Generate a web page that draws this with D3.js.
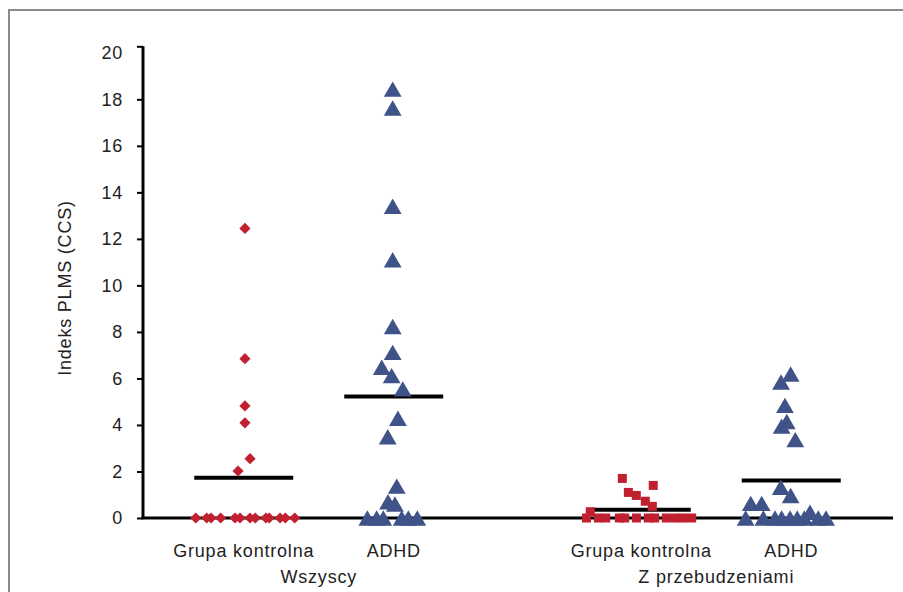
<!DOCTYPE html>
<html>
<head>
<meta charset="utf-8">
<script src="https://cdn.jsdelivr.net/npm/d3@7"></script>
<style>
  body { margin: 0; background: #fff; }
  text { font-family: "Liberation Sans", Arial, sans-serif; font-size: 18px; fill: #222; letter-spacing: 0.8px; }
</style>
</head>
<body>
<script>
// groups and categories
const groups = ["Wszyscy", "Z przebudzeniami"];
const categories = ["Grupa kontrolna", "ADHD"];
const yTicks = [0, 2, 4, 6, 8, 10, 12, 14, 16, 18, 20];

// PLMS index values, with horizontal scatter (fraction of category step)
const ctrlAll = [12.45, 6.85, 4.82, 4.09, 2.55, 2.02, 0, 0, 0, 0, 0, 0, 0, 0, 0, 0, 0, 0, 0];
const ctrlAllJit = [0.008, 0.008, 0.008, 0.008, 0.042, -0.038, -0.32, -0.247, -0.218, -0.154, -0.058, -0.025, 0.042, 0.077, 0.148, 0.17, 0.242, 0.277, 0.34];

const adhdAll = [18.44, 17.63, 13.4, 11.1, 8.23, 7.12, 6.48, 6.12, 5.55, 4.29, 3.49, 1.37, 0.7, 0.6, 0, 0, 0, 0, 0, 0];
const adhdAllJit = [-0.007, -0.007, -0.007, -0.007, -0.007, -0.007, -0.08, -0.014, 0.06, 0.028, -0.04, 0.02, -0.038, 0.008, -0.176, -0.114, -0.07, 0.053, 0.097, 0.157];

const ctrlWake = [1.7, 1.4, 1.1, 0.97, 0.72, 0.5, 0.27, 0, 0, 0, 0, 0, 0, 0, 0, 0, 0, 0, 0];
const ctrlWakeJit = [-0.126, 0.08, -0.086, -0.033, 0.027, 0.074, -0.34, -0.365, -0.286, -0.237, -0.146, -0.11, -0.032, 0.047, 0.09, 0.167, 0.225, 0.28, 0.336];

const adhdWake = [6.19, 5.85, 4.84, 4.15, 3.95, 3.37, 1.32, 0.97, 0.63, 0.63, 0.25, 0, 0, 0, 0, 0, 0, 0, 0, 0];
const adhdWakeJit = [-0.004, -0.068, -0.042, -0.03, -0.064, 0.027, -0.07, -0.004, -0.27, -0.197, 0.125, -0.304, -0.186, -0.108, -0.064, -0.008, 0.04, 0.087, 0.18, 0.232];

const red = "#c1212f";
const blue = "#3f5389";

const series = [
  {group: groups[0], cat: categories[0], values: ctrlAll, jit: ctrlAllJit, shape: "diamond", color: red},
  {group: groups[0], cat: categories[1], values: adhdAll, jit: adhdAllJit, shape: "triangle", color: blue},
  {group: groups[1], cat: categories[0], values: ctrlWake, jit: ctrlWakeJit, shape: "square", color: red},
  {group: groups[1], cat: categories[1], values: adhdWake, jit: adhdWakeJit, shape: "triangle", color: blue}
];

const W = 903, H = 592;
const svg = d3.select("body").append("svg").attr("width", W).attr("height", H);

// frame (top and left edges)
svg.append("path")
  .attr("d", "M9,592V10H903")
  .attr("fill", "none")
  .attr("stroke", "#8a8a8a")
  .attr("stroke-width", 2);

const plotLeft = 143, plotRight = 893;

const y = d3.scaleLinear().domain([0, 20]).range([518, 52.8]);
const xGroup = d3.scaleBand().domain(groups).range([120, 915]);
const xCat = d3.scalePoint().domain(categories).range([0, xGroup.bandwidth()]).padding(0.825);
const step = xCat.step();
const cx = (g, c) => xGroup(g) + xCat(c);

// y axis
const yAxis = svg.append("g")
  .attr("transform", `translate(${plotLeft},0)`)
  .call(d3.axisLeft(y).tickValues(yTicks).tickSizeInner(6).tickSizeOuter(0).tickPadding(14));
yAxis.select(".domain")
  .attr("d", `M0,${y(20) - 6.5}V${y(0)}`)
  .attr("stroke", "#000")
  .attr("stroke-width", 3);
yAxis.selectAll(".tick line").attr("stroke", "#000").attr("stroke-width", 2);
yAxis.selectAll(".tick").filter(d => d === 20).select("line")
  .attr("y1", -6.5).attr("y2", -6.5);
yAxis.selectAll(".tick text")
  .style("font-family", "Liberation Sans, Arial, sans-serif")
  .style("font-size", "18px")
  .attr("fill", "#222");

// x axis line at 0
svg.append("line")
  .attr("x1", plotLeft - 1.5).attr("x2", plotRight)
  .attr("y1", y(0)).attr("y2", y(0))
  .attr("stroke", "#000")
  .attr("stroke-width", 3);

// y axis title
svg.append("text")
  .attr("transform", "translate(71,288) rotate(-90)")
  .attr("text-anchor", "middle")
  .text("Indeks PLMS (CCS)");

// category labels
svg.append("g").selectAll("text")
  .data(series)
  .join("text")
  .attr("x", d => cx(d.group, d.cat))
  .attr("y", 557)
  .attr("text-anchor", "middle")
  .text(d => d.cat);

// group labels
svg.append("g").selectAll("text")
  .data(groups)
  .join("text")
  .attr("x", g => xGroup(g) + xGroup.bandwidth() / 2)
  .attr("y", 583)
  .attr("text-anchor", "middle")
  .text(g => g);

// mean lines
svg.append("g").selectAll("line")
  .data(series)
  .join("line")
  .attr("x1", d => cx(d.group, d.cat) - 0.33 * step)
  .attr("x2", d => cx(d.group, d.cat) + 0.33 * step)
  .attr("y1", d => y(d3.mean(d.values)))
  .attr("y2", d => y(d3.mean(d.values)))
  .attr("stroke", "#000")
  .attr("stroke-width", 4);

// marker shapes, centred on their bounding box
function shapePath(shape) {
  if (shape === "diamond") return "M0,-5.6L5.6,0L0,5.6L-5.6,0Z";
  if (shape === "square") return "M-4.5,-4.5H4.5V4.5H-4.5Z";
  return "M0,-7.7L8.9,7.7H-8.9Z";
}

const points = series.flatMap(s => s.values.map((v, i) => ({
  x: cx(s.group, s.cat) + s.jit[i] * step,
  v: v,
  shape: s.shape,
  color: s.color
})));

svg.append("g").selectAll("path")
  .data(points)
  .join("path")
  .attr("transform", d => `translate(${d.x},${y(d.v)})`)
  .attr("d", d => shapePath(d.shape))
  .attr("fill", d => d.color);
</script>
</body>
</html>
